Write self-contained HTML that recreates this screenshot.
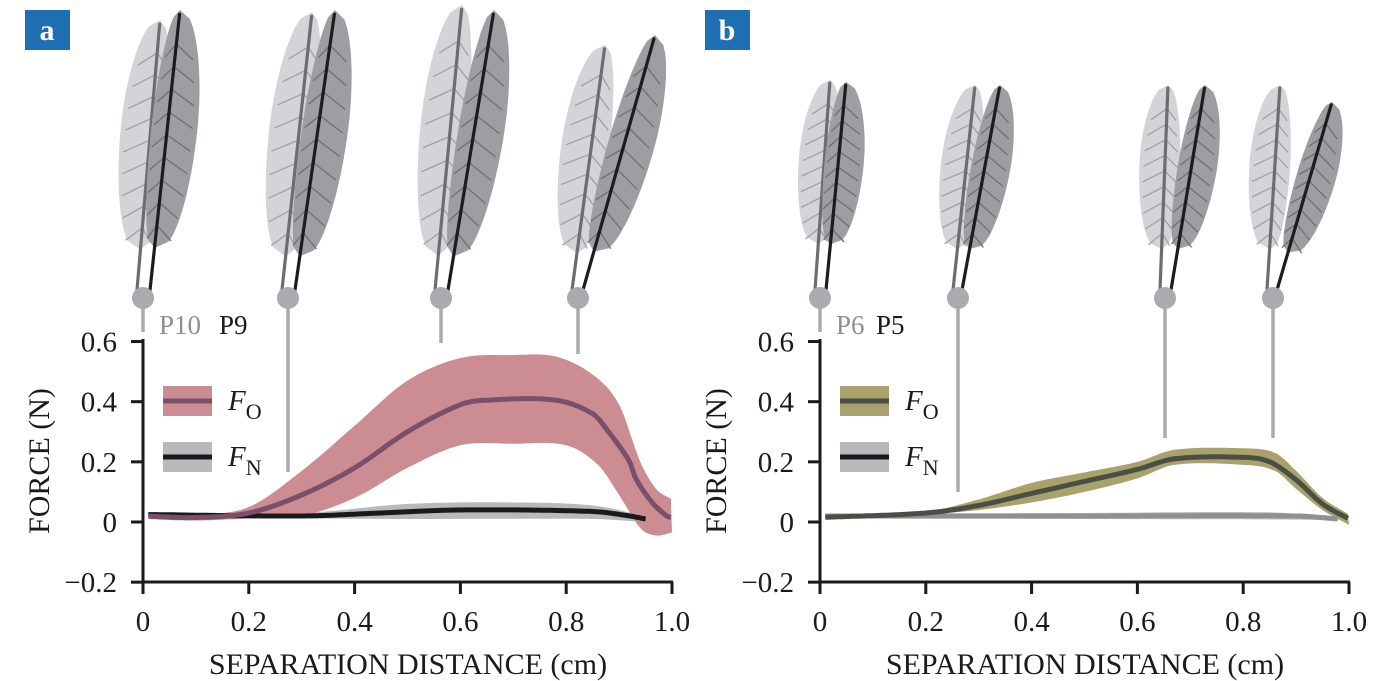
<!DOCTYPE html>
<html><head><meta charset="utf-8"><style>
html,body{margin:0;padding:0;background:#fff;width:1377px;height:681px;overflow:hidden}
svg text{font-family:"Liberation Serif",serif}
</style></head><body>
<svg id="s" width="1377" height="681" viewBox="0 0 1377 681" xmlns="http://www.w3.org/2000/svg">
<rect width="1377" height="681" fill="#fff"/>
<g id="feathers"></g>
<g id="plots"></g>
<rect x="25" y="10" width="45" height="40" fill="#1f6fb3"/>
<text x="47" y="40" font-size="30" font-weight="bold" fill="#fff" text-anchor="middle">a</text>
<rect x="705" y="10" width="45" height="40" fill="#1f6fb3"/>
<text x="727" y="40" font-size="30" font-weight="bold" fill="#fff" text-anchor="middle">b</text>
</svg>
<script>
var NS="http://www.w3.org/2000/svg";
function el(p,t,a,txt){var e=document.createElementNS(NS,t);for(var k in a)e.setAttribute(k,a[k]);if(txt!=null)e.textContent=txt;p.appendChild(e);return e;}
var F=document.getElementById('feathers'),P=document.getElementById('plots');
function feather(bx,by,tx,ty,w,vfill,sh,barb,t0,lw,rw){
 var dx=tx-bx,dy=ty-by,L=Math.hypot(dx,dy),ux=dx/L,uy=dy/L,nx=-uy,ny=ux;
 if(nx>0){nx=-nx;ny=-ny;}
 var left=[],right=[];
 for(var i=0;i<=30;i++){var t=t0+(1-t0)*i/30;var s=(t-t0)/(1-t0);var f=Math.pow(Math.sin(Math.PI*Math.min(1,s*1.0)),0.45);if(s<0.5)f=Math.pow(Math.sin(Math.PI*s),0.35);
  var cx=bx+dx*t,cy=by+dy*t;left.push([cx+nx*w*lw*f,cy+ny*w*lw*f]);right.push([cx-nx*w*rw*f,cy-ny*w*rw*f]);}
 var d='M'+left.map(p=>p[0].toFixed(1)+','+p[1].toFixed(1)).join('L')+'L'+right.reverse().map(p=>p[0].toFixed(1)+','+p[1].toFixed(1)).join('L')+'Z';
 el(F,'path',{d:d,fill:vfill});
 for(var i=1;i<10;i++){var t=t0+(1-t0)*i/10.5;var cx=bx+dx*t,cy=by+dy*t;var s=(t-t0)/(1-t0);var f=Math.pow(Math.sin(Math.PI*s),0.4)*0.85;
  el(F,'line',{x1:cx,y1:cy,x2:cx+nx*w*lw*f-ux*w*0.35,y2:cy+ny*w*lw*f-uy*w*0.35,stroke:barb,'stroke-width':1.3});
  el(F,'line',{x1:cx,y1:cy,x2:cx-nx*w*rw*f-ux*w*0.35,y2:cy-ny*w*rw*f-uy*w*0.35,stroke:barb,'stroke-width':1.3});}
 el(F,'path',{d:'M'+bx+','+by+'L'+(bx+dx*0.985)+','+(by+dy*0.985),stroke:sh,'stroke-width':3.2,'stroke-linecap':'round'});
}
function pair(cx,stemEnd,l,d,w,t0){
 el(F,'line',{x1:cx,y1:298,x2:cx,y2:stemEnd,stroke:'#a9abae','stroke-width':3.5});
 feather(l[0],l[1],l[2],l[3],w,'#d3d4d7','#6c6d70','#a0a1a4',t0,0.75,0.45);
 feather(d[0],d[1],d[2],d[3],w,'#9d9ea1','#1c1c1e','#6f7073',t0,0.4,0.75);
 el(F,'circle',{cx:cx,cy:298,r:11,fill:'#a9abae'});
}
pair(143,332,[137,290,160,20],[150,290,180,10],40,0.15);
pair(288,472,[282,290,312,12],[295,290,335,10],40,0.12);
pair(441,343,[435,290,462,5],[448,290,494,10],40,0.12);
pair(578,354,[572,290,605,45],[583,290,655,35],40,0.15);
pair(820,332,[815,290,830,80],[826,290,846,82],34,0.22);
pair(958,492,[953,290,975,85],[962,290,1000,85],34,0.2);
pair(1165,438,[1160,290,1168,85],[1171,290,1205,85],34,0.2);
pair(1273,438,[1267,290,1280,85],[1277,290,1332,102],34,0.2);

function interp(pts,x){var n=pts.length;for(var i=0;i<n-1;i++){if(x<=pts[i+1][0]||i==n-2){var a=pts[i],b=pts[i+1];var h=b[0]-a[0],t=Math.max(0,Math.min(1,(x-a[0])/h));
 var pa=pts[Math.max(0,i-1)],pb=pts[Math.min(n-1,i+2)];
 var m0=(b[1]-pa[1])/(b[0]-pa[0])*h,m1=(pb[1]-a[1])/(pb[0]-a[0])*h;
 var t2=t*t,t3=t2*t;return (2*t3-3*t2+1)*a[1]+(t3-2*t2+t)*m0+(-2*t3+3*t2)*b[1]+(t3-t2)*m1;}}return pts[n-1][1];}
function panel(x0,labs,fo,fn,col){
 var X=v=>x0+v*529,Y=v=>522-v*300.8;
 function band(up,lo,x1,x2,fill){var d='';for(var x=x1;x<=x2+1e-9;x+=0.004)d+=(d?'L':'M')+X(x).toFixed(1)+','+Y(interp(up,x)).toFixed(1);for(var x=x2;x>=x1-1e-9;x-=0.004)d+='L'+X(x).toFixed(1)+','+Y(interp(lo,x)).toFixed(1);el(P,'path',{d:d+'Z',fill:fill});}
 function line(m,x1,x2,c,w){var d='';for(var x=x1;x<=x2+1e-9;x+=0.004)d+=(d?'L':'M')+X(x).toFixed(1)+','+Y(interp(m,x)).toFixed(1);el(P,'path',{d:d,fill:'none',stroke:c,'stroke-width':w,'stroke-linejoin':'round'});}
 band(fn.up,fn.lo,0.01,fn.end,'#b7b9bd');
 band(fo.up,fo.lo,0.01,1.0,col.band);
 line(fn.m,0.01,fn.end,fn.c,5);
 line(fo.m,0.01,1.0,col.line,5);
 el(P,'line',{x1:x0,y1:339,x2:x0,y2:584,stroke:'#1a1a1a','stroke-width':3});
 el(P,'line',{x1:x0-1.5,y1:582,x2:x0+530,y2:582,stroke:'#1a1a1a','stroke-width':3});
 [[0.6,'0.6'],[0.4,'0.4'],[0.2,'0.2'],[0,'0'],[-0.2,'−0.2']].forEach(function(t){var y=Y(t[0]);el(P,'line',{x1:x0-12,y1:y,x2:x0,y2:y,stroke:'#1a1a1a','stroke-width':3});el(P,'text',{x:x0-26,y:y+10,'font-size':29,'text-anchor':'end',fill:'#1a1a1a'},t[1]);});
 [0,0.2,0.4,0.6,0.8,1.0].forEach(function(v,i){var x=X(v);el(P,'line',{x1:x,y1:582,x2:x,y2:594,stroke:'#1a1a1a','stroke-width':3});el(P,'text',{x:x,y:631,'font-size':29,'text-anchor':'middle',fill:'#1a1a1a'},['0','0.2','0.4','0.6','0.8','1.0'][i]);});
 el(P,'text',{x:x0+265,y:674,'font-size':30,'text-anchor':'middle',fill:'#1a1a1a'},'SEPARATION DISTANCE (cm)');
 el(P,'text',{x:0,y:0,'font-size':30,'text-anchor':'middle',fill:'#1a1a1a',transform:'translate('+(x0-94)+',461) rotate(-90)'},'FORCE (N)');
 el(P,'text',{x:x0+16,y:334,'font-size':27,fill:'#8e8f92'},labs[0]);
 el(P,'text',{x:x0+16+labs[2],y:334,'font-size':27,fill:'#1a1a1a'},labs[1]);
 var lx=x0+20;
 el(P,'rect',{x:lx,y:386,width:49,height:30,fill:col.band});
 el(P,'line',{x1:lx,y1:401,x2:lx+49,y2:401,stroke:col.line,'stroke-width':5});
 el(P,'rect',{x:lx,y:442,width:49,height:30,fill:'#b7b9bd'});
 el(P,'line',{x1:lx,y1:457,x2:lx+49,y2:457,stroke:'#1a1a1a','stroke-width':5});
 var t=el(P,'text',{x:lx+65,y:410,'font-size':29,fill:'#1a1a1a'});t.innerHTML='<tspan font-style="italic">F</tspan><tspan dy="9" font-size="22">O</tspan>';
 var t2=el(P,'text',{x:lx+65,y:466,'font-size':29,fill:'#1a1a1a'});t2.innerHTML='<tspan font-style="italic">F</tspan><tspan dy="9" font-size="22">N</tspan>';
}
panel(143,['P10','P9',60],{
 m:[[0,0.02],[0.1,0.015],[0.2,0.03],[0.3,0.09],[0.4,0.18],[0.5,0.3],[0.6,0.39],[0.65,0.405],[0.78,0.405],[0.85,0.36],[0.88,0.3],[0.92,0.2],[0.93,0.15],[0.96,0.07],[0.99,0.02],[1.0,0.015]],
 up:[[0,0.03],[0.1,0.025],[0.2,0.05],[0.3,0.17],[0.4,0.32],[0.5,0.47],[0.6,0.545],[0.7,0.555],[0.78,0.55],[0.85,0.49],[0.9,0.39],[0.94,0.2],[0.97,0.11],[1.0,0.075]],
 lo:[[0,0.01],[0.1,0.005],[0.2,0.012],[0.3,0.02],[0.4,0.08],[0.5,0.18],[0.6,0.255],[0.7,0.26],[0.8,0.255],[0.86,0.19],[0.9,0.09],[0.94,-0.02],[0.97,-0.045],[1.0,-0.035]]},
 {m:[[0,0.025],[0.3,0.02],[0.45,0.03],[0.6,0.04],[0.85,0.035],[0.92,0.02],[0.95,0.01]],
  up:[[0,0.03],[0.3,0.03],[0.5,0.06],[0.7,0.065],[0.85,0.055],[0.95,0.02]],
  lo:[[0,0.015],[0.3,0.012],[0.5,0.01],[0.85,0.01],[0.95,0.0]],end:0.95,c:'#1a1a1a'},
 {band:'#cc8d92',line:'#7a4f69'});
panel(820,['P6','P5',40],{
 m:[[0,0.015],[0.2,0.03],[0.3,0.055],[0.4,0.095],[0.5,0.135],[0.6,0.175],[0.67,0.21],[0.8,0.215],[0.85,0.2],[0.9,0.14],[0.95,0.06],[1.0,0.01]],
 up:[[0,0.02],[0.2,0.035],[0.3,0.075],[0.4,0.13],[0.5,0.165],[0.6,0.2],[0.67,0.24],[0.8,0.245],[0.86,0.23],[0.9,0.17],[0.95,0.08],[1.0,0.025]],
 lo:[[0,0.01],[0.2,0.025],[0.3,0.04],[0.4,0.065],[0.5,0.1],[0.6,0.145],[0.67,0.19],[0.8,0.19],[0.86,0.17],[0.9,0.11],[0.95,0.04],[1.0,-0.01]]},
 {m:[[0,0.02],[0.5,0.02],[0.9,0.02],[0.98,0.01]],up:[[0,0.028],[0.5,0.03],[0.85,0.032],[0.98,0.015]],lo:[[0,0.012],[0.5,0.01],[0.9,0.008],[0.98,0.005]],end:0.98,c:'#8e9093'},
 {band:'#aaa26c',line:'#4a4f45'});
</script>
</body></html>
